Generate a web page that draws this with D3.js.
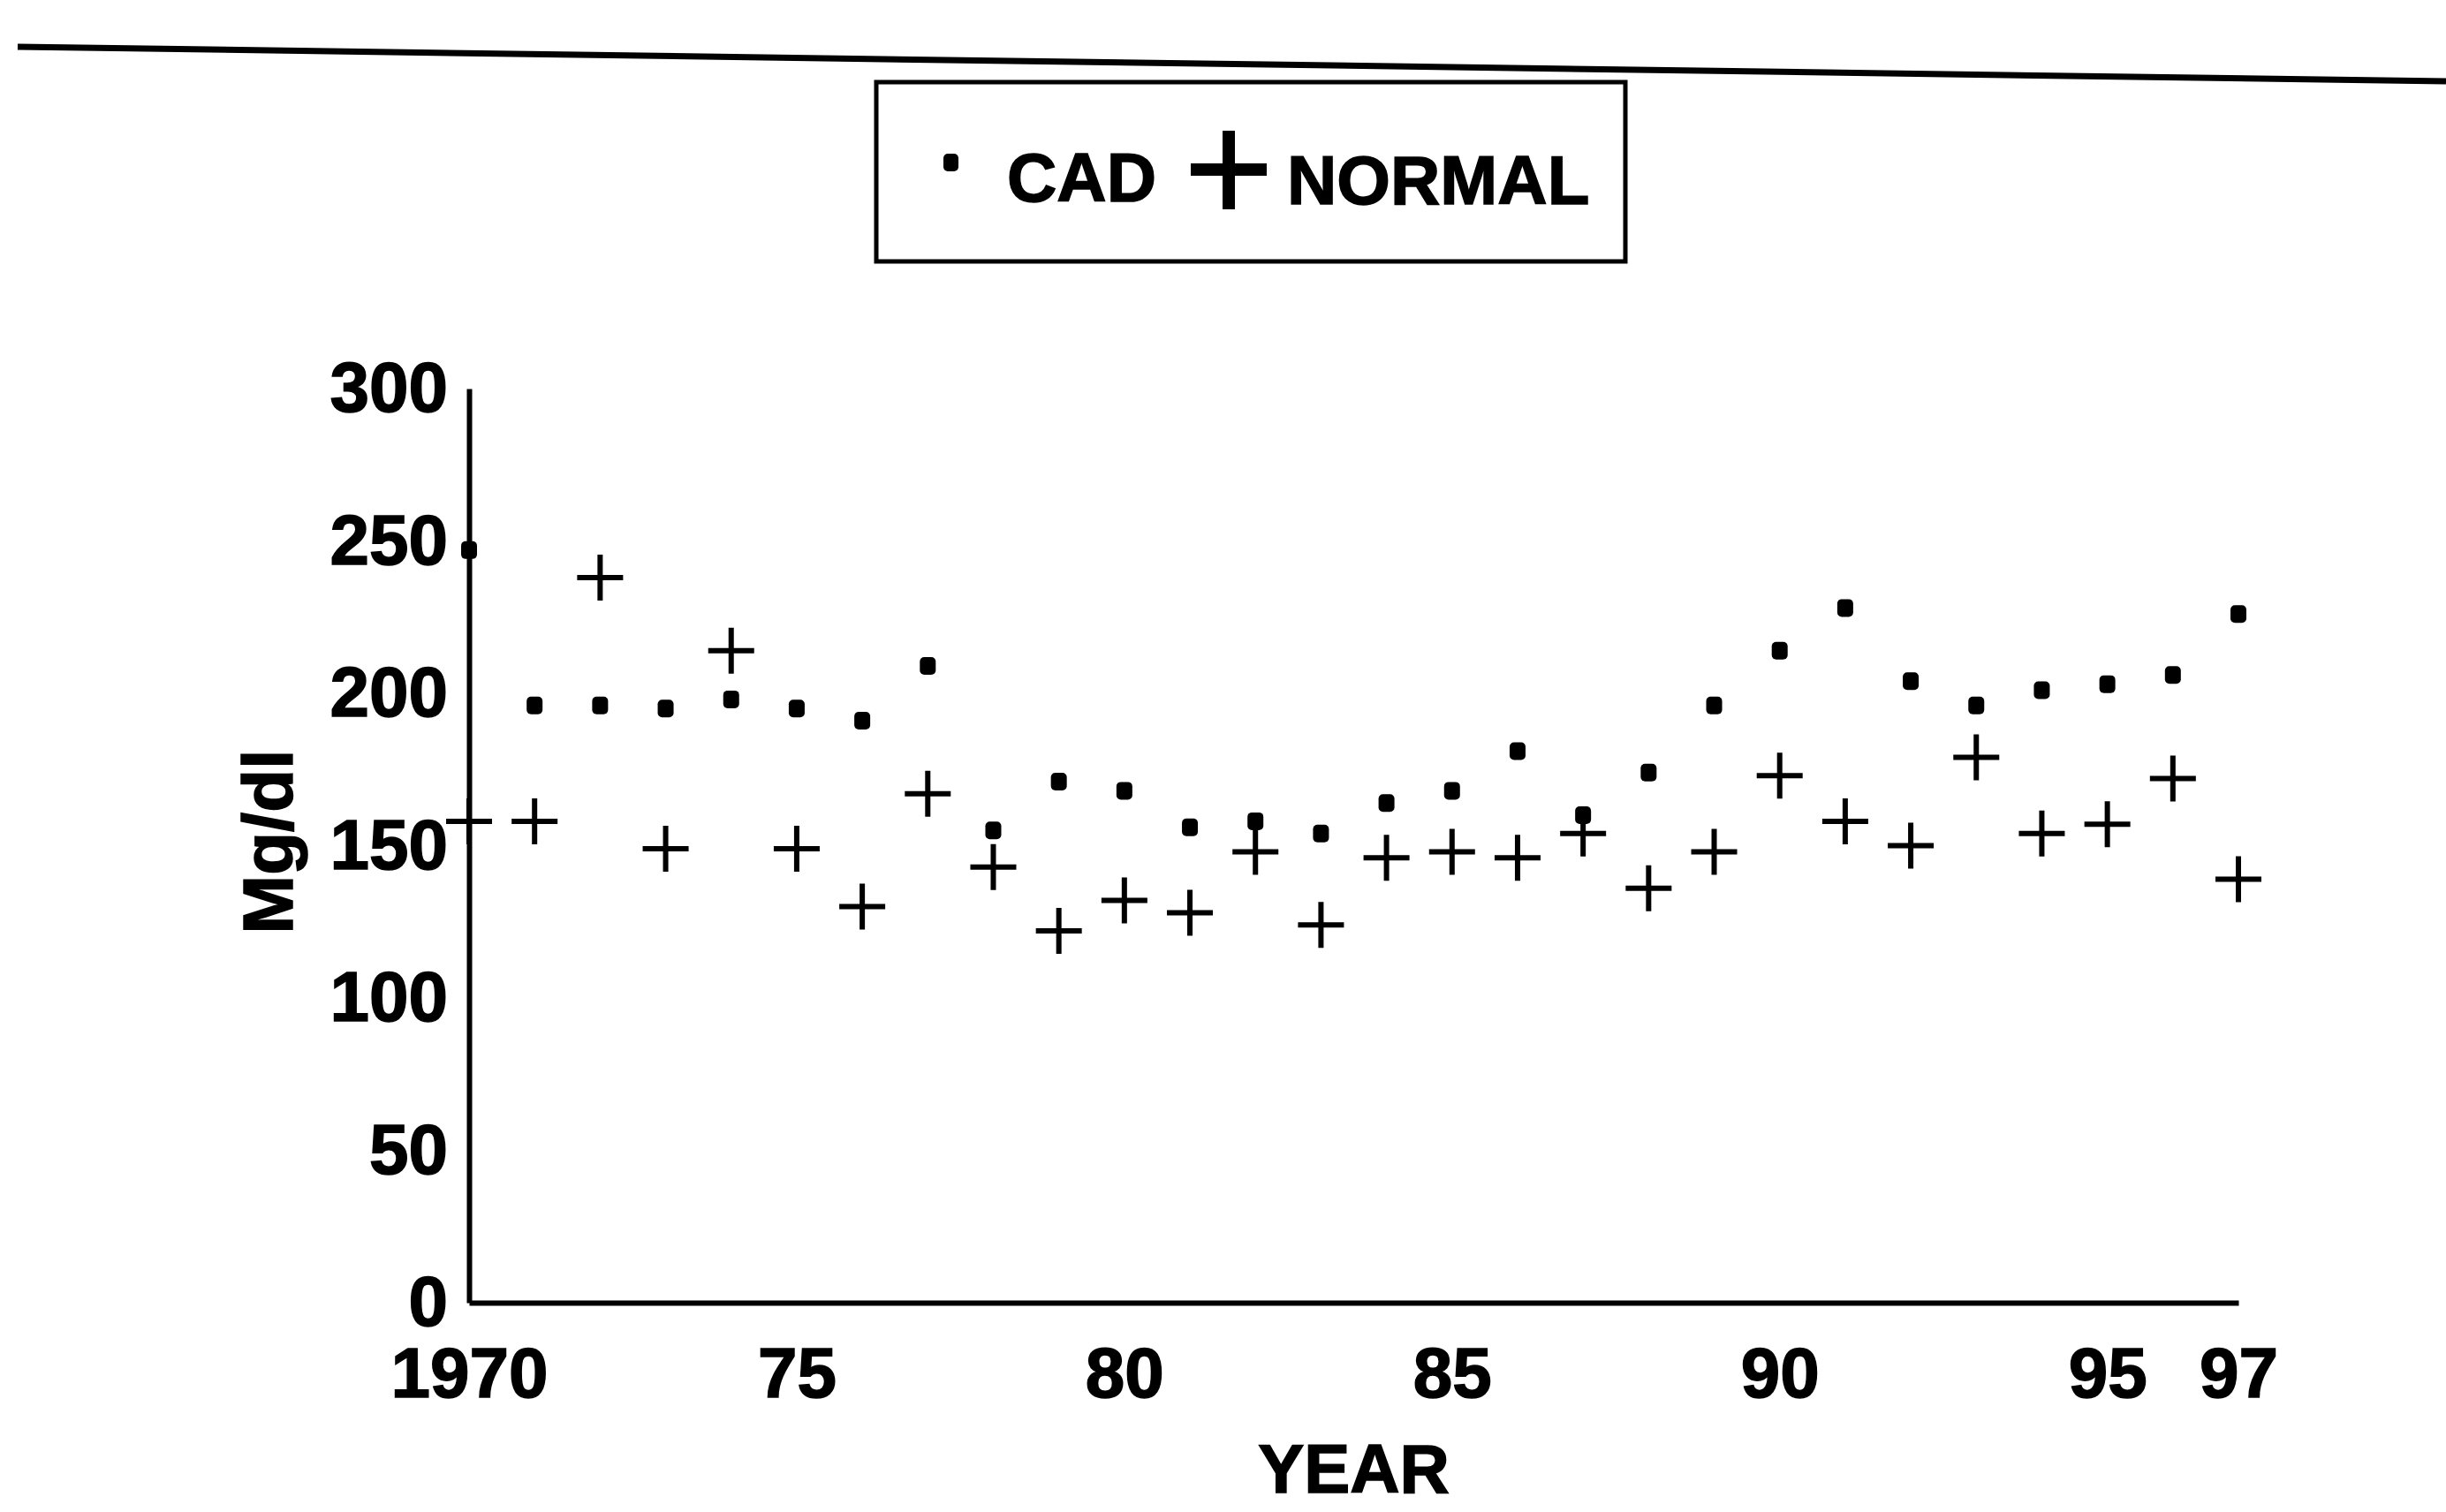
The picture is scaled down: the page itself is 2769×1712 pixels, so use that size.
<!DOCTYPE html>
<html>
<head>
<meta charset="utf-8">
<script src="https://d3js.org/d3.v7.min.js"></script>
<style>
body { margin: 0; background: #fff; }
text { font-family: "Liberation Sans", Arial, Helvetica, sans-serif; font-weight: bold; fill: #000; stroke: #000; stroke-width: 1.5px; }
</style>
</head>
<body>
<svg id="chart" width="2769" height="1712"></svg>
<script>
// values, 1970 .. 1997
var years = d3.range(1970, 1998);
var cad = [247,196,196,195,198,195,191,209,155,171,168,156,158,154,164,168,181,160,174,196,214,228,204,196,201,203,206,226];
var normal = [158,158,238,149,214,149,130,167,143,122,132,128,148,124,146,148,146,154,136,148,173,158,150,179,154,157,172,139];

var yTicks = [0, 50, 100, 150, 200, 250, 300];
var xTicks = [1970, 1975, 1980, 1985, 1990, 1995, 1997];
var xTickLabels = ["1970", "75", "80", "85", "90", "95", "97"];

var svg = d3.select("#chart"),
    width = +svg.attr("width"),
    height = +svg.attr("height");

svg.append("rect").attr("width", width).attr("height", height).attr("fill", "#fff");

var x = d3.scaleLinear().domain([1970, 1997]).range([531, 2534]);
var y = d3.scaleLinear().domain([0, 300]).range([1475, 440]);

// page rule at the top (scan is slightly skewed)
svg.append("line")
    .attr("x1", 20).attr("y1", 53)
    .attr("x2", width).attr("y2", 92)
    .attr("stroke", "#000").attr("stroke-width", 7);

// legend
var legend = svg.append("g");
legend.append("rect")
    .attr("x", 992).attr("y", 93)
    .attr("width", 848).attr("height", 203)
    .attr("fill", "none").attr("stroke", "#000").attr("stroke-width", 5);
legend.append("rect")
    .attr("x", 1068).attr("y", 174)
    .attr("width", 17).attr("height", 20).attr("rx", 5)
    .attr("fill", "#000");
legend.append("text").attr("x", 1140).attr("y", 228).style("font-size", "78px").text("CAD");
legend.append("path")
    .attr("d", "M1348,192H1434M1391,148V237")
    .attr("stroke", "#000").attr("stroke-width", 14).attr("fill", "none");
legend.append("text").attr("x", 1457).attr("y", 231).style("font-size", "78px").text("NORMAL");

// axes
var yAxis = svg.append("g")
    .attr("transform", "translate(" + x(1970) + ",0)")
    .call(d3.axisLeft(y).tickValues(yTicks).tickSize(0).tickPadding(24).tickFormat(d3.format("d")));

var xAxis = svg.append("g")
    .attr("transform", "translate(0," + y(0) + ")")
    .call(d3.axisBottom(x).tickValues(xTicks).tickSize(0).tickPadding(50)
        .tickFormat(function(d, i) { return xTickLabels[i]; }));

[yAxis, xAxis].forEach(function(a) {
    a.select(".domain").attr("stroke", "#000").attr("stroke-width", 6);
    a.selectAll("text")
        .attr("fill", "#000")
        .style("font-size", "80px")
        .style("font-family", "\"Liberation Sans\", Arial, sans-serif")
        .style("font-weight", "bold");
});

svg.append("text")
    .attr("transform", "translate(331,953) rotate(-90)")
    .attr("text-anchor", "middle")
    .style("font-size", "80px")
    .text("Mg/dl");

svg.append("text")
    .attr("x", (x(1970) + x(1997)) / 2)
    .attr("y", 1690)
    .attr("text-anchor", "middle")
    .style("font-size", "78px")
    .text("YEAR");

// CAD dots
svg.append("g")
    .selectAll("rect")
    .data(years)
    .enter().append("rect")
    .attr("x", function(d) { return x(d) - 9; })
    .attr("y", function(d, i) { return y(cad[i]) - 10; })
    .attr("width", 18)
    .attr("height", 20)
    .attr("rx", 5)
    .attr("fill", "#000");

// NORMAL crosses
var cs = 26;
svg.append("g")
    .selectAll("path")
    .data(years)
    .enter().append("path")
    .attr("d", function(d, i) {
        var cx = x(d), cy = y(normal[i]);
        return "M" + (cx - cs) + "," + cy + "H" + (cx + cs) + "M" + cx + "," + (cy - cs) + "V" + (cy + cs);
    })
    .attr("stroke", "#000")
    .attr("stroke-width", 6)
    .attr("fill", "none");
</script>
</body>
</html>
